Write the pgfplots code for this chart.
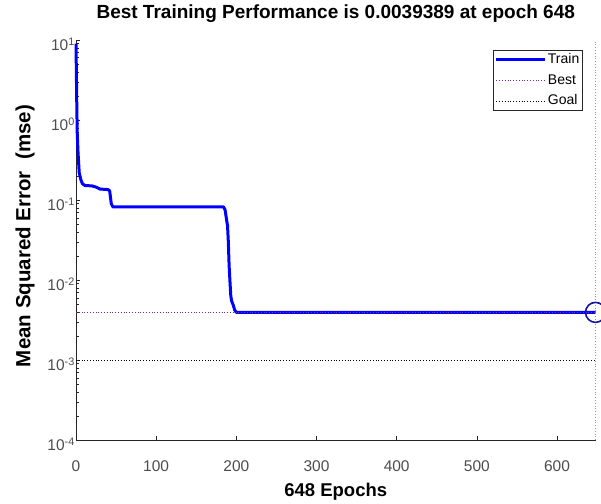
\documentclass[border=0pt]{standalone}
\usepackage{fontspec}
\setmainfont{Liberation Sans}
\usepackage{pgfplots}
\pgfplotsset{compat=1.18}

\definecolor{trainBlue}{RGB}{0,0,255}
\definecolor{bestPurple}{RGB}{128,40,150}
\definecolor{bestVert}{RGB}{140,140,210}
\definecolor{axisInk}{RGB}{38,38,38}
\definecolor{tickInk}{RGB}{77,77,77}
\definecolor{circleBlue}{RGB}{20,20,160}

\begin{document}
\begin{tikzpicture}
  \path[use as bounding box] (-76pt,-63pt) rectangle (525pt,440pt);
  \begin{axis}[
    scale only axis,
    width=519.5pt, height=400pt,
    ymode=log,
    xmin=0, xmax=648,
    ymin=1e-4, ymax=10,
    axis x line*=bottom,
    axis y line*=left,
    axis line style={draw=axisInk, line width=0.6pt},
    tick style={draw=axisInk, line width=0.5pt},
    tick align=inside,
    major tick length=4pt,
    minor tick length=2.5pt,
    xtick={0,100,200,300,400,500,600},
    ytick={1e-4,1e-3,1e-2,1e-1,1,10},
    yticklabels={10\textsuperscript{-4},10\textsuperscript{-3},10\textsuperscript{-2},10\textsuperscript{-1},10\textsuperscript{0},10\textsuperscript{1}},
    /pgf/number format/assume math mode=true,
    tick label style={font=\fontsize{15.5}{18}\selectfont, text=tickInk},
    xticklabel style={anchor=center, inner sep=0pt, yshift=-26pt},
    yticklabel style={anchor=east, inner sep=0pt, xshift=-1pt, yshift=-4pt},
    title={\bfseries Best Training Performance is 0.0039389 at epoch 648},
    title style={at={(axis description cs:0.5,1.05)}, anchor=center, font=\fontsize{19}{22}\selectfont},
    xlabel={\bfseries 648 Epochs},
    xlabel style={at={(axis description cs:0.5,-0.13)}, anchor=center, font=\fontsize{18.5}{21}\selectfont},
    ylabel={\bfseries Mean Squared Error\ \ (mse)},
    ylabel style={at={(axis description cs:-0.098,0.51)}, anchor=center, rotate=0, font=\fontsize{20.5}{23}\selectfont},
    clip=false,
    legend style={
      at={(axis description cs:1,1)}, anchor=north east,
      xshift=-13pt, yshift=-10pt,
      font=\fontsize{14}{16}\selectfont,
      draw=axisInk,
      fill=white,
      inner xsep=2pt, inner ysep=2pt,
      row sep=5pt,
      nodes={inner sep=1pt, text height=10.5pt, text depth=3pt}
    },
    legend cell align={left},
    legend image code/.code={\draw[#1] (0pt,0pt) -- (49pt,0pt);}
  ]
    \addplot[trainBlue, line width=3pt, line join=round] coordinates {
      (0,9.0) (1,1.5) (1.5,0.7) (2.5,0.4) (4,0.22) (6,0.18) (8,0.16)
      (11,0.152) (20,0.15) (25,0.145) (30,0.137) (40,0.135) (42,0.13)
      (44,0.09) (46,0.082) (184,0.082) (186,0.075) (188,0.055) (189,0.048)
      (190,0.03) (191,0.015) (192,0.0098) (193,0.0065) (194,0.0055)
      (196,0.0049) (198,0.0042) (200,0.0039389) (648,0.0039389)
    };
    \addlegendentry{Train}
    \addplot[bestPurple, dotted, line width=0.8pt] coordinates {(0,0.0039389) (648,0.0039389)};
    \addlegendentry{Best}
    \addplot[black, dotted, line width=0.8pt] coordinates {(0,0.001) (648,0.001)};
    \addlegendentry{Goal}
    \addplot[bestVert, dotted, line width=0.8pt, forget plot] coordinates {(648,1e-4) (648,10)};
    \addplot[circleBlue, only marks, mark=o, mark size=10pt, mark options={line width=1.6pt}, forget plot] coordinates {(648,0.0039389)};
  \end{axis}
\end{tikzpicture}
\end{document}
